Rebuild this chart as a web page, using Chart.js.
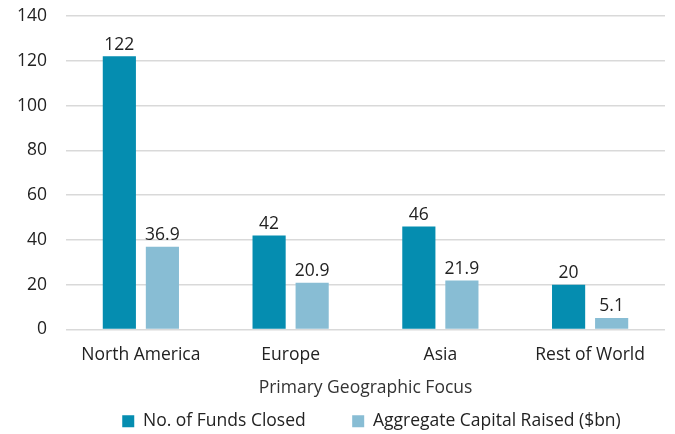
<!DOCTYPE html>
<html>
<head>
<meta charset="utf-8">
<script src="https://cdn.jsdelivr.net/npm/chart.js@4/dist/chart.umd.min.js"></script>
<style>
  html, body { margin: 0; padding: 0; background: #fff; }
  #wrap { width: 675px; height: 434px; }
</style>
</head>
<body>
<div id="wrap"><canvas id="chart"></canvas></div>
<script>
var regions = ["North America", "Europe", "Asia", "Rest of World"];
var fundsClosed = [122, 42, 46, 20];
var capitalRaised = [36.9, 20.9, 21.9, 5.1];
var yTicks = [0, 20, 40, 60, 80, 100, 120, 140];

var fontSize = 17.5;
Chart.defaults.font.family = "'Open Sans', sans-serif";
Chart.defaults.color = "#222";

// draw the value above each bar
var barLabels = {
	id: 'barLabels',
	afterLayout: function(chart) {
		// nudge the legend a little to the right
		if (chart.legend) {
			chart.legend.left += 6;
			chart.legend.right += 6;
		}
	},
	afterDatasetsDraw: function(chart) {
		var c = chart.ctx;
		c.save();
		c.font = fontSize + "px 'Open Sans', sans-serif";
		c.fillStyle = "#222";
		c.textAlign = "center";
		c.textBaseline = "bottom";
		chart.data.datasets.forEach(function(ds, i) {
			var meta = chart.getDatasetMeta(i);
			meta.data.forEach(function(bar, j) {
				c.fillText(String(ds.data[j]), bar.x, bar.y - 3);
			});
		});
		c.restore();
	}
};

var ctx = document.getElementById("chart");
var myChart = new Chart(ctx, {
	type: 'bar',
	data: {
		labels: regions,
		datasets: [{
			label: "No. of Funds Closed",
			data: fundsClosed,
			backgroundColor: "#058db0",
			categoryPercentage: 0.575,
			barPercentage: 0.77
		}, {
			label: "Aggregate Capital Raised ($bn)",
			data: capitalRaised,
			backgroundColor: "#88bdd4",
			categoryPercentage: 0.575,
			barPercentage: 0.77
		}]
	},
	options: {
		responsive: true,
		maintainAspectRatio: false,
		animation: false,
		// legend box carries 10px of empty space at its bottom, let it hang off the canvas
		layout: { padding: { left: 10, right: 10, top: 16, bottom: -6 } },
		plugins: {
			legend: {
				position: 'bottom',
				fullSize: false,
				labels: {
					boxWidth: 12,
					boxHeight: 12,
					padding: 1,
					font: { size: fontSize },
					color: "#222",
					generateLabels: function(chart) {
						var items = Chart.defaults.plugins.legend.labels.generateLabels(chart);
						// wider gap between the two legend entries
						items[0].text = items[0].text + "          ";
						return items;
					}
				}
			},
			tooltip: { enabled: false }
		},
		scales: {
			x: {
				grid: { display: false },
				border: { display: false },
				ticks: { font: { size: fontSize }, color: "#222", padding: 7 },
				title: {
					display: true,
					text: "Primary Geographic Focus",
					font: { size: fontSize },
					color: "#333",
					padding: { top: 5, bottom: 13 }
				}
			},
			y: {
				min: 0,
				max: 140,
				afterBuildTicks: function(axis) {
					axis.ticks = yTicks.map(function(v) { return { value: v }; });
				},
				afterFit: function(axis) {
					axis.width = 56;
					axis.paddingTop = 0;
					axis.paddingBottom = 0;
				},
				grid: { color: "#d9d9d9", lineWidth: 1.5, drawTicks: false },
				border: { display: false },
				ticks: { font: { size: fontSize }, color: "#222", padding: 19 }
			}
		}
	},
	plugins: [barLabels]
});
</script>
</body>
</html>
